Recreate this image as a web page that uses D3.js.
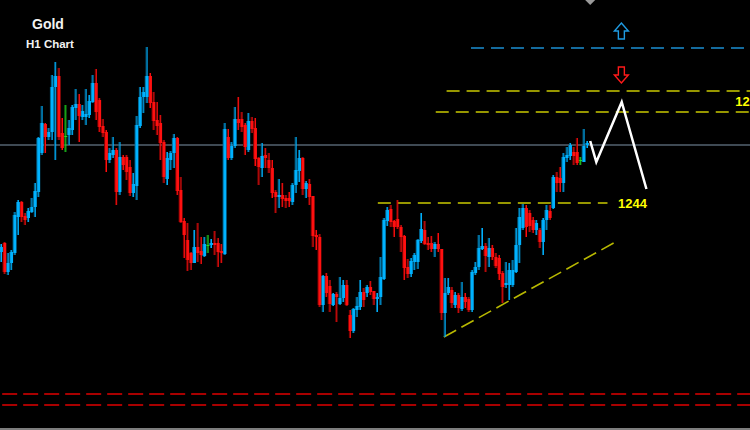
<!DOCTYPE html>
<html><head><meta charset="utf-8">
<script src="https://cdn.jsdelivr.net/npm/d3@7"></script>
<style>html,body{margin:0;padding:0;background:#000;overflow:hidden}svg{display:block}</style>
</head><body>
<script>
// ---- data (Gold H1 candles) ----
const opens = [1239.1,1240.0,1237.1,1238.0,1239.0,1242.6,1244.1,1242.7,1242.5,1243.1,1243.6,1245.1,1249.0,1251.9,1250.6,1251.1,1255.6,1256.7,1251.0,1250.7,1250.8,1251.3,1253.5,1253.9,1252.6,1252.6,1252.8,1254.1,1256.0,1254.3,1251.7,1251.1,1248.3,1248.8,1249.3,1245.1,1248.6,1248.6,1247.6,1245.0,1245.7,1251.7,1254.6,1254.6,1256.7,1254.1,1252.3,1252.0,1250.1,1246.4,1248.3,1249.0,1250.5,1245.3,1242.2,1240.3,1239.0,1238.0,1239.6,1239.2,1238.7,1239.8,1239.8,1240.0,1240.0,1239.2,1238.9,1250.6,1248.5,1249.7,1252.4,1252.4,1251.8,1249.3,1252.2,1251.5,1248.5,1247.5,1248.8,1248.3,1247.5,1245.1,1244.6,1244.8,1244.5,1244.5,1244.1,1245.8,1247.2,1248.5,1245.4,1245.9,1244.7,1240.8,1240.6,1233.8,1236.7,1235.7,1233.8,1234.9,1233.9,1234.5,1235.8,1232.8,1231.2,1233.3,1233.6,1235.1,1235.0,1235.6,1235.2,1234.4,1234.6,1236.4,1242.2,1243.4,1242.2,1242.4,1241.6,1240.7,1237.6,1236.9,1238.1,1238.1,1240.2,1241.3,1240.0,1240.0,1239.4,1239.9,1239.4,1233.0,1235.0,1235.3,1233.8,1234.8,1233.4,1234.6,1234.4,1233.3,1237.0,1237.6,1239.4,1239.7,1238.6,1239.5,1238.6,1238.5,1237.0,1235.8,1235.8,1235.8,1237.1,1239.8,1241.5,1243.5,1243.0,1242.3,1241.3,1241.3,1240.1,1242.3,1243.2,1243.5,1246.6,1246.5,1246.0,1248.5,1248.7,1249.1,1249.1,1248.3,1248.1,1249.8];
const highs = [1239.9,1240.1,1239.0,1239.3,1243.1,1244.3,1244.2,1243.0,1243.5,1244.5,1246.0,1250.6,1253.7,1252.0,1251.5,1256.8,1258.1,1257.5,1252.5,1253.8,1252.3,1253.8,1255.4,1254.9,1253.8,1255.4,1254.8,1256.8,1257.4,1254.5,1252.4,1251.3,1249.5,1250.6,1249.5,1250.1,1248.8,1248.8,1248.3,1247.0,1252.7,1255.6,1255.6,1259.6,1257.0,1255.1,1254.1,1252.8,1250.3,1249.1,1249.2,1250.9,1250.6,1246.6,1242.5,1242.0,1239.1,1241.3,1242.0,1240.6,1240.6,1240.8,1240.4,1241.2,1240.5,1239.9,1252.0,1251.4,1250.1,1253.6,1254.6,1253.1,1252.0,1253.0,1252.6,1252.5,1248.6,1250.0,1249.5,1249.0,1248.3,1245.3,1246.4,1246.0,1244.8,1245.1,1246.0,1250.6,1249.3,1248.6,1246.2,1246.4,1244.7,1241.3,1240.9,1236.8,1237.0,1236.3,1235.0,1235.1,1236.6,1236.3,1236.3,1233.3,1233.5,1234.6,1236.3,1235.5,1235.8,1236.2,1235.2,1235.0,1238.6,1242.5,1243.6,1243.8,1242.3,1244.3,1241.8,1240.8,1238.4,1238.5,1239.0,1240.4,1243.0,1242.2,1240.6,1240.7,1240.1,1241.0,1239.4,1236.5,1236.5,1235.6,1235.1,1235.0,1236.1,1235.0,1234.6,1237.3,1238.1,1240.8,1241.5,1240.0,1240.5,1239.8,1239.0,1238.8,1237.2,1238.1,1238.0,1238.3,1241.5,1243.5,1243.9,1243.8,1243.3,1242.6,1242.3,1241.5,1242.5,1243.8,1243.8,1246.8,1247.1,1247.6,1249.0,1249.6,1250.0,1249.6,1250.5,1248.6,1251.4,1250.2];
const lows = [1238.1,1236.9,1236.8,1237.3,1238.8,1240.8,1242.1,1241.8,1242.1,1243.0,1242.6,1244.6,1248.8,1249.0,1250.3,1250.3,1248.3,1250.3,1249.3,1249.1,1249.8,1250.8,1252.3,1250.1,1252.3,1251.8,1252.5,1254.0,1252.3,1251.1,1250.6,1247.1,1248.0,1248.5,1243.8,1244.8,1247.3,1246.3,1244.7,1244.6,1244.3,1251.5,1253.0,1254.0,1253.5,1251.3,1250.8,1248.3,1246.0,1245.8,1247.3,1247.5,1244.8,1242.0,1238.5,1237.2,1237.3,1238.0,1238.1,1237.9,1238.6,1239.0,1239.5,1238.8,1237.6,1238.0,1238.8,1248.3,1248.3,1249.5,1251.3,1251.1,1248.8,1249.1,1251.0,1247.7,1245.8,1246.6,1247.5,1247.0,1244.5,1243.0,1243.5,1243.6,1243.5,1243.6,1243.8,1245.0,1246.1,1244.8,1244.5,1243.8,1239.6,1239.3,1233.6,1233.1,1234.6,1233.1,1233.7,1232.1,1233.8,1234.1,1233.7,1230.5,1231.0,1232.6,1233.3,1233.6,1234.6,1234.8,1233.8,1233.1,1233.8,1236.3,1241.7,1241.6,1240.6,1241.4,1239.1,1236.3,1236.5,1236.6,1237.3,1237.4,1240.0,1239.8,1239.3,1239.1,1238.6,1239.1,1232.3,1230.6,1234.8,1233.5,1233.5,1233.0,1233.2,1233.5,1233.1,1233.1,1236.8,1237.3,1239.3,1237.1,1237.6,1238.3,1237.5,1236.3,1234.0,1235.5,1234.3,1235.6,1237.0,1238.0,1241.3,1240.6,1241.1,1241.0,1240.8,1239.5,1238.8,1241.3,1242.3,1243.4,1245.1,1245.1,1245.1,1248.1,1248.3,1247.8,1247.8,1247.8,1248.1,1249.5];
const closes = [1239.6,1237.1,1238.0,1239.1,1242.8,1244.1,1242.6,1242.3,1243.2,1243.6,1245.2,1250.5,1252.0,1250.6,1251.1,1255.6,1256.7,1250.6,1249.5,1250.7,1251.5,1253.6,1253.9,1252.7,1253.2,1252.9,1254.2,1256.0,1253.1,1251.6,1251.0,1248.3,1249.0,1249.3,1245.1,1248.6,1247.8,1247.1,1245.0,1245.9,1251.8,1254.6,1255.1,1256.7,1254.0,1252.2,1251.7,1250.0,1246.6,1248.5,1249.0,1250.5,1245.2,1242.1,1240.8,1238.3,1238.0,1239.6,1239.0,1238.8,1239.9,1239.8,1240.0,1239.8,1239.1,1239.0,1251.4,1248.5,1249.7,1252.4,1252.0,1251.6,1249.6,1252.2,1251.4,1248.4,1247.6,1248.7,1248.5,1247.5,1245.0,1244.6,1244.8,1244.4,1244.2,1244.2,1245.8,1247.3,1248.5,1245.4,1246.0,1244.6,1240.7,1240.6,1233.8,1236.7,1235.0,1233.9,1234.9,1234.6,1234.5,1235.8,1233.8,1231.2,1233.4,1233.7,1235.1,1234.3,1235.6,1235.1,1234.4,1234.6,1236.6,1242.3,1243.3,1242.1,1241.6,1241.6,1240.6,1237.5,1236.9,1238.2,1238.8,1240.3,1241.4,1239.9,1239.8,1239.4,1239.9,1239.4,1233.0,1235.0,1235.6,1234.0,1234.8,1233.5,1234.6,1234.1,1233.3,1237.1,1237.6,1239.5,1239.7,1238.7,1239.5,1238.6,1237.7,1236.9,1235.6,1236.0,1237.3,1237.3,1239.8,1242.6,1243.5,1241.6,1241.7,1241.3,1242.0,1240.1,1242.3,1243.3,1242.5,1246.6,1246.0,1246.0,1248.6,1248.8,1249.8,1248.7,1248.0,1248.3,1249.7,1250.0];

// horizontal levels (price) and the bar index where each starts / ends
const levelPrices = [1259.5, 1255.2, 1253.1, 1244.0, 1224.9, 1223.8];
const levelStart  = [138.6, 131.4, 128.2, 111.1, 0.2, 0.2];
const levelEnd    = [221, 221, 221, 178.9, 221, 221];
const levelKind   = ["blue", "yellow", "yellow", "yellow", "red", "red"];
const currentPrice = 1249.8;
// the right label is cut by the chart's edge in the original: only "12" shows
const levelLabels = ["1244", "12"];
const levelLabelPrices = [1244.0, 1254.2];
const levelLabelIdx = [182.0, 216.6];

// projected zigzag path and support trend line
const zigIdx = [173.8, 175.6, 183.1, 190.4];
const zigPrice = [1250.2, 1248.1, 1254.1, 1245.4];
const trendIdx = [130.6, 181.8];
const trendPrice = [1230.6, 1240.2];

// ---- drawing ----
const W = 750, H = 430;
const svg = d3.select("body").append("svg").attr("width", W).attr("height", H).style("background", "#000");
const x = d3.scaleLinear().domain([0, opens.length - 1]).range([1.5, 587.5]);
const y = d3.scaleLinear().domain([1221.3, 1264.3]).range([H, 0]);
const candles = opens.map((o, i) => ({o, h: highs[i], l: lows[i], c: closes[i], i}));

// bottom border
svg.append("rect").attr("x", 0).attr("y", 428).attr("width", W).attr("height", 2).attr("fill", "#7d7d7d");

// current price line
svg.append("line").attr("x1", 0).attr("x2", W).attr("y1", y(currentPrice)).attr("y2", y(currentPrice))
  .attr("stroke", "#7f94a8").attr("stroke-width", 1);

// level lines
const kindColor = {blue: "#1b8fd2", yellow: "#c9c900", red: "#e00000"};
const kindDash = {blue: "13,7", yellow: "13,7", red: "15,6"};
svg.selectAll("line.level").data(levelPrices).join("line").attr("class", "level")
  .attr("x1", (d, i) => x(levelStart[i])).attr("x2", (d, i) => x(levelEnd[i]))
  .attr("y1", d => y(d)).attr("y2", d => y(d))
  .attr("stroke", (d, i) => kindColor[levelKind[i]]).attr("stroke-width", 1.6)
  .attr("stroke-dasharray", (d, i) => kindDash[levelKind[i]]);

// trend line
svg.append("line").attr("x1", x(trendIdx[0])).attr("y1", y(trendPrice[0]))
  .attr("x2", x(trendIdx[1])).attr("y2", y(trendPrice[1]))
  .attr("stroke", "#b8b800").attr("stroke-width", 1.6).attr("stroke-dasharray", "14,6");

// candles: dim back layer + bright layer
const col = d => d.c > d.o ? "#00b2ff" : (d.c < d.o ? "#ff1010" : "#22dd22");
const dimCol = d => d.c > d.o ? "#006c99" : (d.c < d.o ? "#8a0000" : "#118811");
function drawCandles(g, color, dx) {
  g.selectAll("line").data(candles).join("line")
    .attr("x1", d => x(d.i) + dx).attr("x2", d => x(d.i) + dx)
    .attr("y1", d => y(d.h)).attr("y2", d => y(d.l))
    .attr("stroke", color).attr("stroke-width", 1);
  g.selectAll("rect").data(candles).join("rect")
    .attr("x", d => x(d.i) + dx - 1.4).attr("width", 2.8)
    .attr("y", d => y(Math.max(d.o, d.c)))
    .attr("height", d => Math.max(1, Math.abs(y(d.o) - y(d.c))))
    .attr("fill", color);
}
drawCandles(svg.append("g"), dimCol, -1);
drawCandles(svg.append("g"), col, 0);

// zigzag projection
svg.append("path").datum(zigIdx.map((d, i) => [x(d), y(zigPrice[i])]))
  .attr("d", d3.line()).attr("fill", "none").attr("stroke", "#ffffff")
  .attr("stroke-width", 2.5).attr("stroke-linejoin", "miter");

// level labels
svg.selectAll("text.lvl").data(levelLabels).join("text").attr("class", "lvl")
  .attr("x", (d, i) => x(levelLabelIdx[i])).attr("y", (d, i) => y(levelLabelPrices[i]))
  .attr("dy", "0.35em").attr("fill", "#ffff00")
  .attr("font-family", "Liberation Sans, Arial, sans-serif").attr("font-weight", "bold").attr("font-size", 13)
  .text(d => d);

// arrows (up: buy target, down: sell)
const ax = x(183.0);
const upTip = y(1262.0), downTip = y(1256.0);
svg.append("path")
  .attr("d", `M${ax},${upTip} L${ax + 7},${upTip + 8} L${ax + 3},${upTip + 8} L${ax + 3},${upTip + 16} L${ax - 3},${upTip + 16} L${ax - 3},${upTip + 8} L${ax - 7},${upTip + 8} Z`)
  .attr("fill", "none").attr("stroke", "#1f9be2").attr("stroke-width", 1.4);
svg.append("path")
  .attr("d", `M${ax},${downTip} L${ax + 7},${downTip - 8} L${ax + 3},${downTip - 8} L${ax + 3},${downTip - 16} L${ax - 3},${downTip - 16} L${ax - 3},${downTip - 8} L${ax - 7},${downTip - 8} Z`)
  .attr("fill", "none").attr("stroke", "#ff1a1a").attr("stroke-width", 1.4);
// small marker at top
const mx = x(173.8);
svg.append("path").attr("d", `M${mx - 5},0 L${mx + 5},0 L${mx},5 Z`).attr("fill", "#9a9a9a");

// titles
svg.append("text").attr("x", 32).attr("y", 29).attr("fill", "#f2f2f2")
  .attr("font-family", "Liberation Sans, Arial, sans-serif").attr("font-weight", "bold").attr("font-size", 14).text("Gold");
svg.append("text").attr("x", 26).attr("y", 48).attr("fill", "#f2f2f2")
  .attr("font-family", "Liberation Sans, Arial, sans-serif").attr("font-weight", "bold").attr("font-size", 11.5).text("H1 Chart");
</script>
</body></html>
